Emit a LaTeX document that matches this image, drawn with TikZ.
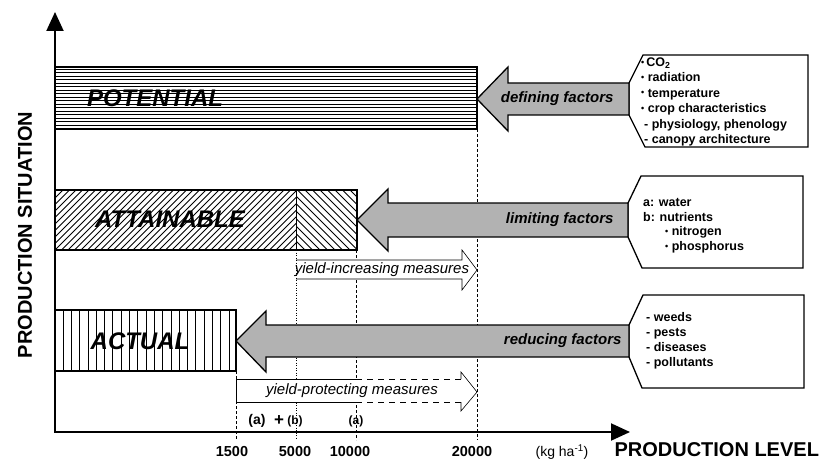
\documentclass[tikz,border=0pt]{standalone}
\usepackage{fontspec}
\setmainfont{Liberation Sans}
\usetikzlibrary{arrows.meta}

\newcommand\bul{\raisebox{0.2ex}{\fontsize{9}{9}\selectfont\textbullet}}
\tikzset{
  bar/.style={draw,line width=1.3pt},
  hatch/.style={line width=0.8pt},
  bigarrow/.style={draw,line width=1.3pt,fill=black!30},
  factorbox/.style={draw,line width=1.3pt,fill=white},
  measure/.style={line width=0.6pt},
  levdash/.style={line width=0.7pt,dash pattern=on 3pt off 2pt},
  levdot/.style={line width=0.7pt,dash pattern=on 1pt off 1.5pt},
  situation/.style={font=\fontsize{24}{24}\selectfont\bfseries\itshape},
  factor/.style={font=\fontsize{15}{15}\selectfont\bfseries\itshape,anchor=east},
  measuretext/.style={font=\fontsize{15}{15}\selectfont\itshape},
  boxtext/.style={align=left,anchor=north west,inner sep=0pt},
  ticklabel/.style={font=\fontsize{14.5}{14.5}\selectfont\bfseries},
  axislabel/.style={font=\fontsize{20}{20}\selectfont\bfseries},
}

\begin{document}
\begin{tikzpicture}[x=1pt,y=-1pt,>={Triangle[length=19pt,width=17pt]}]
\useasboundingbox (0,0) rectangle (826,465);
% production levels
\draw[levdash] (236,371) -- (236,440);
\draw[levdot] (296,250) -- (296,440);
\draw[levdash] (356,250) -- (356,440);
\draw[levdash] (477,129) -- (477,440);
\draw[line width=2pt,<->] (55,12) -- (55,432) -- (630,432);

% potential
\begin{scope}
\clip (55,67) rectangle (477,129);
\foreach \y in {69.5,73,...,128} \draw[hatch,line width=1pt] (55,\y) -- (477,\y);
\end{scope}
\draw[bar] (55,67) rectangle (477,129);
% attainable
\begin{scope}
\clip (55,190) rectangle (296,250);
\foreach \x in {-10,-3.5,...,300} \draw[hatch] (\x,250) -- ++(60,-60);
\end{scope}
\begin{scope}
\clip (296,190) rectangle (357,250);
\foreach \x in {230,237.5,...,360} \draw[hatch] (\x,190) -- ++(60,60);
\end{scope}
\draw[bar] (55,190) rectangle (357,250);
\draw[line width=1pt] (296,190) -- (296,250);
% actual
\foreach \x in {63,71.3,...,230} \draw[hatch] (\x,310) -- (\x,371);
\draw[bar] (55,310) rectangle (236,371);

\node[situation] (potential) at (155,98) {POTENTIAL};
\node[situation] (attainable) at (170,219) {ATTAINABLE};
\node[situation] (actual) at (140,341) {ACTUAL};

% factor boxes and arrows
\draw[factorbox] (629,83) -- (643,55) -- (808,55) -- (808,147) -- (645,147) -- (629,115) -- cycle;
\draw[factorbox] (628,203) -- (641,176) -- (803,176) -- (803,268) -- (642,268) -- (628,237) -- cycle;
\draw[factorbox] (629,325) -- (643,295) -- (804,295) -- (804,388) -- (642,388) -- (629,357) -- cycle;
\draw[bigarrow] (477,99) -- (508,67) -- (508,83) -- (629,83) -- (629,115) -- (508,115) -- (508,131) -- cycle;
\draw[bigarrow] (357,220) -- (388,189) -- (388,203) -- (628,203) -- (628,237) -- (388,237) -- (388,251) -- cycle;
\draw[bigarrow] (236,341) -- (266,311) -- (266,325) -- (629,325) -- (629,357) -- (266,357) -- (266,372) -- cycle;
\node[factor] (defining) at (617,99) {defining factors};
\node[factor] (limiting) at (617,220) {limiting factors};
\node[factor] (reducing) at (625,341) {reducing factors};

\node[boxtext,font=\fontsize{12.5}{15.4}\selectfont\bfseries] (definingbox) at (641,57.5)
  {\bul\,CO\textsubscript{2}\\ \bul\ radiation\\ \bul\ temperature\\ \bul\ crop characteristics\\
   \hspace*{3pt}- physiology, phenology\\ \hspace*{3pt}- canopy architecture};
\node[boxtext,font=\fontsize{12.5}{14.7}\selectfont\bfseries] (limitingbox) at (643,198)
  {a: water\\ b: nutrients\\ \hspace*{22pt}\bul\ nitrogen\\ \hspace*{22pt}\bul\ phosphorus};
\node[boxtext,font=\fontsize{12.5}{15}\selectfont\bfseries] (reducingbox) at (646,312.5)
  {- weeds\\ - pests\\ - diseases\\ - pollutants};

% measures
\fill[white] (296,260) -- (462,260) -- (462,250) -- (477,270) -- (462,290) -- (462,279) -- (296,279) -- cycle;
\draw[measure] (296,260) -- (462,260) -- (462,250) -- (477,270) -- (462,290) -- (462,279) -- (296,279);
\draw[levdot] (296,260) -- (296,279);
\node[measuretext] (increasing) at (382,270) {yield-increasing measures};
\fill[white] (236,379) -- (461,379) -- (461,372) -- (477,392) -- (461,411) -- (461,402) -- (236,402) -- cycle;
\draw[measure] (356,379) -- (236,379) -- (236,402) -- (356,402);
\draw[measure,dash pattern=on 6pt off 5pt] (356,379) -- (461,379) (356,402) -- (461,402);
\draw[measure] (461,379) -- (461,372) -- (477,392) -- (461,411) -- (461,402);
\node[measuretext] (protecting) at (352,391) {yield-protecting measures};

% axis labels
\node[font=\fontsize{14}{14}\selectfont\bfseries] (water) at (257,421) {(a)};
\node[font=\fontsize{17}{17}\selectfont\bfseries] (plus) at (279,421) {+};
\node[font=\fontsize{12}{12}\selectfont\bfseries] (nutrients) at (295,421) {(b)};
\node[font=\fontsize{12}{12}\selectfont\bfseries] (wateronly) at (356,421) {(a)};
\node[ticklabel] (t1500) at (232,452) {1500};
\node[ticklabel] (t5000) at (295,452) {5000};
\node[ticklabel] (t10000) at (350,452) {10000};
\node[ticklabel] (t20000) at (472,452) {20000};
\node[font=\fontsize{14}{14}\selectfont] (unit) at (562,452) {(kg ha\textsuperscript{-1})};
\node[axislabel,anchor=west] (xlabel) at (611,450) {PRODUCTION LEVEL};
\node[axislabel,rotate=90] (ylabel) at (25,235) {PRODUCTION SITUATION};
\end{tikzpicture}
\end{document}
